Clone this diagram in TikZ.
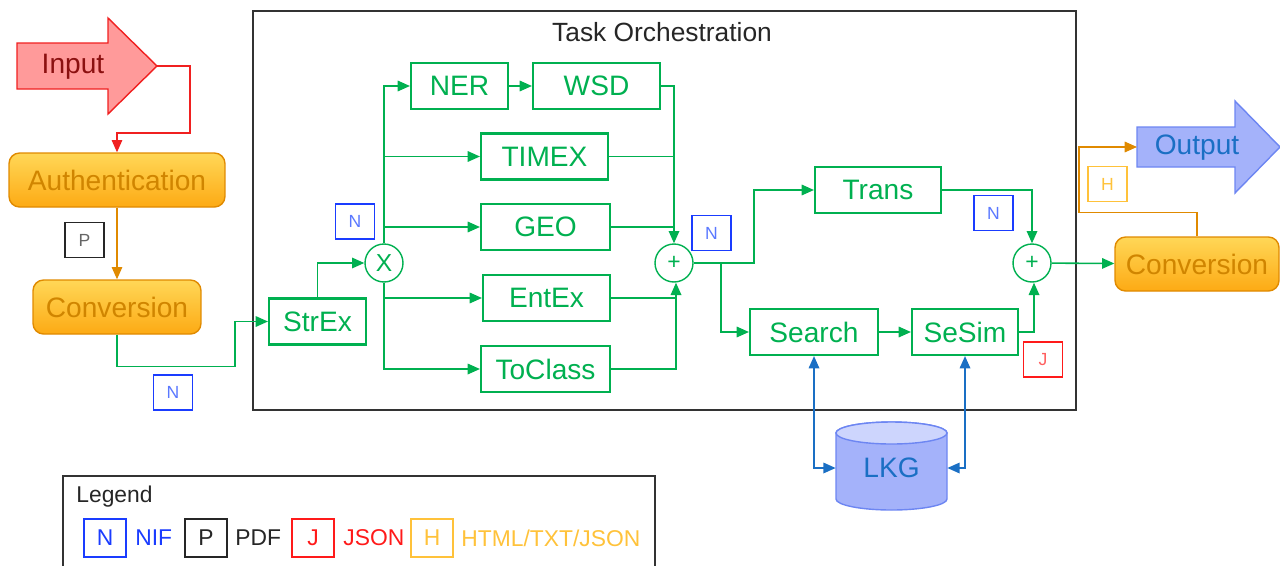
\documentclass[tikz,border=0pt]{standalone}
\usepackage{fontspec}
\setmainfont{Liberation Sans}
\usepackage{tikz}
\usetikzlibrary{arrows.meta, calc}

\definecolor{taskgreen}{HTML}{00B050}
\definecolor{nifblue}{HTML}{1A3CFF}
\definecolor{niftext}{HTML}{5A78FF}
\definecolor{jsonred}{HTML}{FF1A1A}
\definecolor{htmlyellow}{HTML}{FFC23A}
\definecolor{convline}{HTML}{E08A00}
\definecolor{convtop}{HTML}{FFD757}
\definecolor{convbot}{HTML}{FDAA14}
\definecolor{convtext}{HTML}{D08500}
\definecolor{inputline}{HTML}{F02020}
\definecolor{inputfill}{HTML}{FF9A9A}
\definecolor{inputtext}{HTML}{8B1010}
\definecolor{outputfill}{HTML}{A4B2FA}
\definecolor{outputline}{HTML}{6D86F2}
\definecolor{kgblue}{HTML}{1A6FC4}
\definecolor{kgtop}{HTML}{CDD5FD}

\begin{document}
\begin{tikzpicture}[x=0.02cm, y=-0.02cm,
            >={Triangle[length=7pt, width=6pt]},
            every node/.style={font=\fontsize{16}{18}\selectfont},
            task/.style={draw=taskgreen, line width=1.2pt, text=taskgreen, minimum height=0.92cm, inner sep=0pt},
            convbox/.style={draw=convline, line width=0.8pt, rounded corners=6pt, top color=convtop, bottom color=convbot, text=convtext, minimum height=1.08cm, inner sep=0pt},
            op/.style={circle, draw=taskgreen, line width=0.8pt, text=taskgreen, minimum size=0.76cm, inner sep=0pt},
            fmt/.style={draw, line width=1.1pt, minimum width=0.78cm, minimum height=0.7cm, inner sep=0pt, font=\fontsize{10}{12}\selectfont},
            legbox/.style={draw, line width=1.1pt, minimum width=0.84cm, minimum height=0.76cm, inner sep=0pt, font=\fontsize{13}{15}\selectfont},
            legtext/.style={anchor=west, inner sep=0pt, font=\fontsize{13}{15}\selectfont},
            flow/.style={draw=taskgreen, line width=0.9pt},
            redflow/.style={draw=inputline, line width=0.8pt},
            orangeflow/.style={draw=convline, line width=0.8pt},
            kgflow/.style={draw=kgblue, line width=0.9pt, <->}
        ]
        \useasboundingbox (0,0) rectangle (1280,565);

        % Task orchestration frame
        \node[draw=black!80, line width=1pt, minimum width=16.46cm, minimum height=7.98cm, inner sep=0pt] (orch) at (664.5,210.5) {};
        \node[text=black!85, font=\fontsize{15}{17}\selectfont] (orchtitle) at (662,32) {Task Orchestration};

        % Input arrow
        \draw[draw=inputline, fill=inputfill, line width=0.8pt]
            (17,43) -- (108,43) -- (108,18) -- (157,66) -- (108,114) -- (108,89) -- (17,89) -- cycle;
        \node[text=inputtext] (input) at (73,67) {Input};
        \coordinate (intip) at (157,66);

        % Output arrow
        \draw[draw=outputline, fill=outputfill, line width=0.8pt]
            (1137,127) -- (1235,127) -- (1235,101) -- (1280,147) -- (1235,193) -- (1235,167) -- (1137,167) -- cycle;
        \node[text=kgblue] (output) at (1197,148) {Output};
        \coordinate (outtail) at (1137,147);

        % Pre-processing
        \node[convbox, minimum width=4.32cm] (auth) at (117,180) {Authentication};
        \node[convbox, minimum width=3.36cm] (conv1) at (117,307) {Conversion};

        % Tasks
        \node[task, minimum width=1.94cm] (strex) at (317.5,321.5) {StrEx};
        \node[op, font=\fontsize{14}{16}\selectfont] (xop) at (384,263) {X};
        \node[task, minimum width=1.94cm] (ner) at (459.5,86) {NER};
        \node[task, minimum width=2.54cm] (wsd) at (596.5,86) {WSD};
        \node[task, minimum width=2.54cm] (timex) at (544.5,156.5) {TIMEX};
        \node[task, minimum width=2.58cm] (geo) at (545.5,227) {GEO};
        \node[task, minimum width=2.54cm] (entex) at (546.5,298) {EntEx};
        \node[task, minimum width=2.58cm] (toclass) at (545.5,369) {ToClass};
        \node[op, font=\fontsize{13}{15}\selectfont] (sum1) at (674,263) {+};
        \node[task, minimum width=2.52cm] (trans) at (878,190) {Trans};
        \node[task, minimum width=2.56cm] (search) at (814,332) {Search};
        \node[task, minimum width=2.12cm] (sesim) at (965,332) {SeSim};
        \node[op, font=\fontsize{13}{15}\selectfont] (sum2) at (1032,263) {+};

        % Post-processing
        \node[convbox, minimum width=3.28cm] (conv2) at (1197,264) {Conversion};

        % Knowledge graph
        \fill[outputfill, draw=outputline, line width=0.8pt]
            (836,433) -- (836,499) arc[start angle=180, end angle=0, x radius=55.5, y radius=11]
            -- (947,433) arc[start angle=0, end angle=-180, x radius=55.5, y radius=11] -- cycle;
        \draw[fill=kgtop, draw=outputline, line width=0.8pt] (891.5,433) ellipse[x radius=55.5, y radius=11];
        \node[text=kgblue, minimum width=2.22cm, minimum height=1.76cm, inner sep=0pt] (lkg) at (891.5,468) {LKG};

        % Format labels
        \node[fmt, draw=black!85, text=black!60] (fmtp) at (84.5,240) {P};
        \node[fmt, draw=nifblue, text=niftext] (fmtn1) at (173,392.5) {N};
        \node[fmt, draw=nifblue, text=niftext] (fmtn2) at (355,221.5) {N};
        \node[fmt, draw=nifblue, text=niftext] (fmtn3) at (711.5,233) {N};
        \node[fmt, draw=nifblue, text=niftext] (fmtn4) at (993.5,213) {N};
        \node[fmt, draw=jsonred, text=jsonred!70] (fmtj) at (1043,359.5) {J};
        \node[fmt, draw=htmlyellow, text=htmlyellow] (fmth) at (1107.5,184) {H};

        % Connectors
        \draw[redflow, ->] (intip) -- ++(33,0) -- ++(0,67) -| (auth.north);
        \draw[orangeflow, ->] (auth) -- (conv1);
        \draw[flow, ->] (conv1.south) |- +(118,32) |- (strex.west);
        \draw[flow, ->] (strex.north) |- (xop.west);
        \draw[flow, ->] (xop.north) |- (ner.west);
        \draw[flow, ->] (xop.north |- timex.west) -- (timex.west);
        \draw[flow, ->] (xop.north |- geo.west) -- (geo.west);
        \draw[flow, ->] (xop.south |- entex.west) -- (entex.west);
        \draw[flow, ->] (xop.south) |- (toclass.west);
        \draw[flow, ->] (ner) -- (wsd);
        \draw[flow, ->] (wsd.east) -| (sum1.north);
        \draw[flow] (timex.east) -- (sum1.north |- timex.east);
        \draw[flow] (geo.east) -- (sum1.north |- geo.east);
        \draw[flow] (entex.east) -- ($(sum1.south |- entex.east)+(2,0)$);
        \draw[flow, ->] (toclass.east) -| ($(sum1.south)+(2,0)$);
        \coordinate (fork) at ($(sum1.east)+(27,0)$);
        \draw[flow, ->] (sum1.east) -- ++(60,0) |- (trans.west);
        \draw[flow, ->] (fork) |- (search.west);
        \draw[flow, ->] (search) -- (sesim);
        \draw[flow, ->] (trans.east) -| (sum2.north);
        \draw[flow, ->] (sesim.east) -| ($(sum2.south)+(2,0)$);
        \draw[flow, ->] (sum2) -- (conv2);
        \draw[orangeflow, ->] (conv2.north) |- +(-118,-24) |- (outtail);
        \draw[kgflow] (search.south) |- (lkg.west);
        \draw[kgflow] (sesim.south) |- (lkg.east);

        % Legend
        \draw[black!80, line width=1pt] (63,570) -- (63,476) -- (655,476) -- (655,570);
        \node[legtext, text=black!85] (legend) at (76,497) {Legend};
        \node[legbox, draw=nifblue, text=nifblue] (legn) at (105,538) {N};
        \node[legtext, text=nifblue] (legnif) at (135,538) {NIF};
        \node[legbox, draw=black!85, text=black!85] (legp) at (206,538) {P};
        \node[legtext, text=black!85] (legpdf) at (235,538) {PDF};
        \node[legbox, draw=jsonred, text=jsonred] (legj) at (313,538) {J};
        \node[legtext, text=jsonred] (legjson) at (343,538) {JSON};
        \node[legbox, draw=htmlyellow, text=htmlyellow] (legh) at (432,538) {H};
        \node[legtext, text=htmlyellow] (leghtml) at (461,538) {HTML/TXT/JSON};
    \end{tikzpicture}
\end{document}
